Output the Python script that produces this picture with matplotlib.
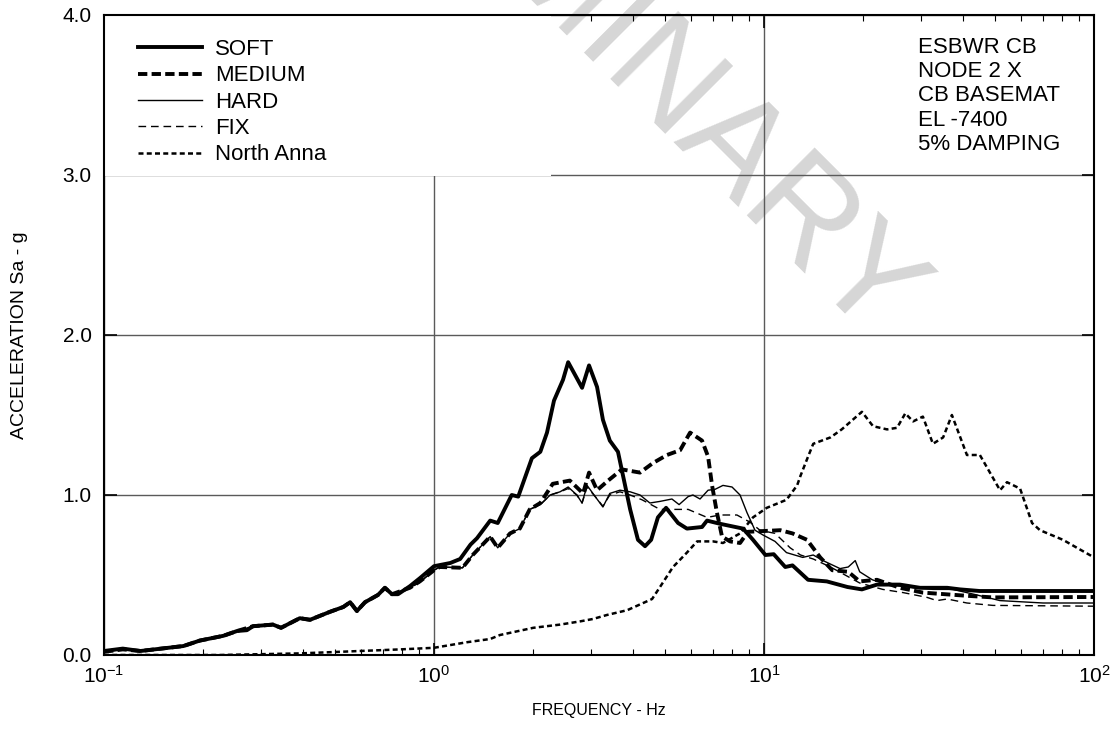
import matplotlib
matplotlib.use("Agg")
import matplotlib.pyplot as plt
from matplotlib.patches import Rectangle
from matplotlib.ticker import LogLocator, FixedLocator, FormatStrFormatter

plt.rcParams['font.family'] = ['Liberation Sans', 'DejaVu Sans']
plt.rcParams['mathtext.fontset'] = 'custom'
plt.rcParams['mathtext.rm'] = 'Liberation Sans'
plt.rcParams['mathtext.it'] = 'Liberation Sans:italic'

# ---- data (frequency in Hz, acceleration in g) ----
soft_f = [0.1, 0.114, 0.129, 0.174, 0.195, 0.23, 0.253, 0.271, 0.283, 0.325,
          0.344, 0.392, 0.421, 0.484, 0.531, 0.557, 0.584, 0.618, 0.676, 0.71,
          0.746, 0.778, 0.845, 0.906, 1.0, 1.12, 1.2, 1.29, 1.35, 1.48,
          1.56, 1.72, 1.8, 1.98, 2.1, 2.2, 2.31, 2.46, 2.55, 2.81,
          2.95, 3.12, 3.25, 3.41, 3.61, 3.93, 4.15, 4.36, 4.55, 4.77,
          5.05, 5.49, 5.84, 6.49, 6.72, 7.36, 8.64, 9.26, 10.1, 10.7,
          11.6, 12.2, 13.6, 15.5, 17.9, 19.8, 22.0, 25.8, 29.7, 35.9,
          39.3, 45.0, 100.0]
soft_a = [0.025, 0.04, 0.025, 0.056, 0.09, 0.12, 0.15, 0.155, 0.18, 0.19,
          0.17, 0.23, 0.22, 0.27, 0.30, 0.33, 0.275, 0.33, 0.375, 0.42,
          0.38, 0.38, 0.43, 0.48, 0.555, 0.575, 0.6, 0.69, 0.73, 0.84,
          0.825, 1.0, 0.99, 1.23, 1.27, 1.39, 1.59, 1.72, 1.83, 1.67,
          1.81, 1.675, 1.47, 1.34, 1.27, 0.91, 0.72, 0.68, 0.72, 0.86,
          0.92, 0.825, 0.79, 0.80, 0.84, 0.82, 0.79, 0.72, 0.625, 0.63,
          0.55, 0.56, 0.47, 0.46, 0.425, 0.41, 0.44, 0.44, 0.42, 0.42,
          0.41, 0.40, 0.40]

medium_f = [0.1, 0.114, 0.129, 0.174, 0.195, 0.23, 0.253, 0.283, 0.325, 0.344,
            0.392, 0.421, 0.484, 0.531, 0.557, 0.584, 0.618, 0.676, 0.71, 0.746,
            0.845, 0.906, 1.0, 1.04, 1.22, 1.31, 1.48, 1.56, 1.70, 1.82,
            1.95, 2.1, 2.29, 2.58, 2.83, 2.95, 3.12, 3.37, 3.71, 4.21,
            4.61, 5.08, 5.57, 5.97, 6.49, 6.77, 6.96, 7.2, 7.46, 7.89,
            8.46, 8.94, 11.2, 12.2, 13.5, 14.8, 16.1, 18.0, 19.5, 22.0,
            25.8, 30.3, 41.2, 49.4, 100.0]
medium_a = [0.02, 0.035, 0.025, 0.056, 0.09, 0.12, 0.15, 0.18, 0.19, 0.17,
            0.23, 0.22, 0.27, 0.30, 0.33, 0.275, 0.33, 0.375, 0.42, 0.38,
            0.42, 0.46, 0.53, 0.55, 0.545, 0.625, 0.74, 0.67, 0.76, 0.79,
            0.91, 0.95, 1.07, 1.09, 1.01, 1.14, 1.03, 1.09, 1.16, 1.14,
            1.2, 1.25, 1.28, 1.39, 1.34, 1.24, 1.06, 0.89, 0.74, 0.71,
            0.70, 0.77, 0.78, 0.76, 0.72, 0.61, 0.53, 0.52, 0.46, 0.47,
            0.42, 0.39, 0.37, 0.36, 0.3625]

hard_f = [0.1, 0.114, 0.129, 0.174, 0.195, 0.23, 0.253, 0.283, 0.325, 0.344,
          0.392, 0.421, 0.484, 0.531, 0.557, 0.584, 0.618, 0.676, 0.71, 0.746,
          0.845, 0.906, 1.0, 1.04, 1.22, 1.31, 1.48, 1.56, 1.70, 1.82,
          1.95, 2.1, 2.25, 2.41, 2.55, 2.71, 2.81, 2.91, 3.08, 3.25,
          3.41, 3.66, 3.93, 4.21, 4.51, 4.84, 5.26, 5.53, 5.89, 6.09,
          6.4, 6.77, 7.1, 7.51, 8.0, 8.46, 8.88, 9.39, 9.93, 10.8,
          11.7, 13.1, 14.1, 15.1, 17.0, 18.0, 18.9, 19.5, 21.3, 23.6,
          27.1, 32.5, 37.4, 44.2, 51.9, 70.1, 100.0]
hard_a = [0.02, 0.035, 0.025, 0.056, 0.09, 0.12, 0.15, 0.18, 0.19, 0.17,
          0.23, 0.22, 0.27, 0.30, 0.33, 0.275, 0.33, 0.375, 0.42, 0.38,
          0.42, 0.455, 0.53, 0.55, 0.545, 0.625, 0.74, 0.67, 0.76, 0.79,
          0.91, 0.94, 1.0, 1.02, 1.05, 1.0, 0.95, 1.06, 0.99, 0.925,
          1.01, 1.03, 1.02, 1.0, 0.95, 0.96, 0.975, 0.94, 0.99, 1.0,
          0.975, 1.03, 1.035, 1.06, 1.05, 1.0, 0.89, 0.78, 0.75, 0.71,
          0.64, 0.61, 0.625, 0.59, 0.54, 0.55, 0.59, 0.52, 0.47, 0.44,
          0.425, 0.41, 0.41, 0.375, 0.34, 0.325, 0.325]

fix_f = [0.1, 0.114, 0.129, 0.174, 0.195, 0.23, 0.253, 0.283, 0.325, 0.344,
         0.392, 0.421, 0.484, 0.531, 0.557, 0.584, 0.618, 0.676, 0.71, 0.746,
         0.845, 0.906, 1.0, 1.04, 1.22, 1.31, 1.48, 1.56, 1.70, 1.82,
         1.95, 2.1, 2.25, 2.41, 2.55, 2.71, 2.81, 2.91, 3.08, 3.25,
         3.41, 3.66, 3.93, 4.27, 4.84, 5.89, 6.72, 7.36, 8.28, 9.07,
         9.72, 10.8, 12.0, 12.9, 14.1, 15.9, 19.5, 22.9, 26.4, 31.2,
         33.4, 35.9, 41.2, 49.4, 100.0]
fix_a = [0.02, 0.035, 0.025, 0.056, 0.09, 0.12, 0.15, 0.18, 0.19, 0.17,
         0.23, 0.22, 0.27, 0.30, 0.33, 0.275, 0.33, 0.375, 0.42, 0.38,
         0.42, 0.455, 0.53, 0.55, 0.545, 0.625, 0.74, 0.67, 0.76, 0.79,
         0.91, 0.94, 1.0, 1.02, 1.04, 1.0, 0.95, 1.05, 0.99, 0.93,
         1.0, 1.02, 1.0, 0.97, 0.91, 0.91, 0.86, 0.875, 0.875, 0.83,
         0.78, 0.76, 0.67, 0.625, 0.60, 0.55, 0.45, 0.41, 0.39, 0.36,
         0.34, 0.35, 0.325, 0.31, 0.305]

anna_f = [0.1, 0.225, 0.392, 0.789, 1.0, 1.26, 1.48, 1.585, 2.0, 2.41,
          2.77, 3.03, 3.34, 3.85, 4.58, 4.84, 5.30, 5.84, 6.27, 7.01,
          7.51, 8.46, 9.26, 10.2, 11.7, 12.6, 12.9, 13.6, 14.1, 15.9,
          17.2, 19.8, 21.4, 23.6, 25.3, 26.8, 28.3, 30.3, 32.5, 34.9,
          37.1, 41.2, 45.1, 51.9, 54.5, 59.7, 64.9, 68.6, 80.5, 88.8,
          100.0]
anna_a = [0.0, 0.0, 0.01, 0.035, 0.045, 0.08, 0.10, 0.125, 0.17, 0.19,
          0.21, 0.225, 0.25, 0.28, 0.35, 0.425, 0.55, 0.64, 0.71, 0.71,
          0.70, 0.76, 0.86, 0.92, 0.97, 1.06, 1.12, 1.24, 1.32, 1.36,
          1.41, 1.52, 1.43, 1.41, 1.42, 1.51, 1.46, 1.49, 1.32, 1.36,
          1.50, 1.25, 1.25, 1.03, 1.08, 1.04, 0.825, 0.78, 0.72, 0.67,
          0.61]

info_lines = ["ESBWR CB", "NODE 2 X", "CB BASEMAT", "EL -7400", "5% DAMPING"]

# ---- figure ----
fig = plt.figure(figsize=(11.15, 7.34), dpi=100)
ax = fig.add_axes([104 / 1115, 1 - 655 / 734, 990 / 1115, 640 / 734])
ax.patch.set_visible(False)

# watermark behind everything in the axes
fig.text(0.505, 1.01, "PRELIMINARY", fontsize=100, color="#d6d6d6",
         rotation=-45, ha="center", va="center", zorder=-5)

ax.plot(soft_f, soft_a, color="black", lw=2.8, label="SOFT", zorder=5)
ax.plot(medium_f, medium_a, color="black", lw=2.8, dashes=(2.4, 1.1),
        label="MEDIUM", zorder=5)
ax.plot(hard_f, hard_a, color="black", lw=1.0, label="HARD", zorder=5)
ax.plot(fix_f, fix_a, color="black", lw=1.0, dashes=(5.5, 3.5),
        label="FIX", zorder=5)
ax.plot(anna_f, anna_a, color="black", lw=1.8, dashes=(2.0, 1.3),
        label="North Anna", zorder=5)

ax.set_xscale("log")
ax.set_xlim(0.1, 100)
ax.set_ylim(0, 4)
ax.yaxis.set_major_locator(FixedLocator([0, 1, 2, 3, 4]))
ax.yaxis.set_major_formatter(FormatStrFormatter("%.1f"))
ax.xaxis.set_major_locator(LogLocator(base=10))
ax.xaxis.set_minor_locator(LogLocator(base=10, subs=range(2, 10)))

ax.grid(True, which="major", color="#5a5a5a", lw=1.0, zorder=1)
ax.set_axisbelow(True)
ax.tick_params(which="major", direction="in", length=9, width=1.2,
               top=True, right=True, labelsize=15)
ax.tick_params(axis="y", which="major", pad=9)
ax.tick_params(axis="x", which="major", pad=7)
ax.tick_params(which="minor", direction="in", length=4, width=0.8,
               top=True, right=True)
for s in ax.spines.values():
    s.set_linewidth(1.5)
    s.set_zorder(6)

ax.set_xlabel("FREQUENCY - Hz", fontsize=11.5)
ax.xaxis.set_label_coords(0.5, -(695 - 655 + 8) / 640)
ax.set_ylabel("ACCELERATION Sa - g", fontsize=14)
ax.yaxis.set_label_coords(-(104 - 28) / 990, 0.5)

# white panel under the legend (hides grid and watermark there)
ax.add_patch(Rectangle((0, 1 - 161 / 640), 447 / 990, 161 / 640,
                       transform=ax.transAxes, facecolor="white",
                       edgecolor="none", zorder=2))
leg = ax.legend(loc="upper left", bbox_to_anchor=(34 / 990, 1 - 24 / 640),
                frameon=False, fontsize=16, handlelength=2.9,
                handletextpad=0.55, labelspacing=0.24, borderpad=0,
                borderaxespad=0)
leg.set_zorder(7)

ax.text(814 / 990, 1 - 22 / 640, "\n".join(info_lines), transform=ax.transAxes,
        fontsize=16, va="top", ha="left", linespacing=1.2, zorder=7)

fig.savefig("out.png", dpi=100)
